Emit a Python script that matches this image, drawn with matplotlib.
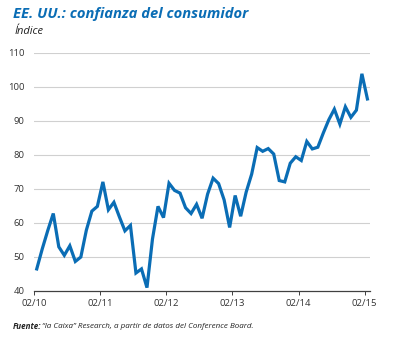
import matplotlib.pyplot as plt
import numpy as np

# Conference Board consumer confidence, monthly 02/2010 - 02/2015
values = [46.4, 52.3, 57.7, 62.7, 52.9, 50.4, 53.2, 48.6, 49.9, 57.8, 63.4,
          64.8, 72.0, 63.8, 66.0, 61.7, 57.6, 59.2, 45.2, 46.4, 40.9, 55.2, 64.8,
          61.5, 71.6, 69.5, 68.7, 64.4, 62.7, 65.4, 61.3, 68.4, 73.1, 71.5, 66.7,
          58.6, 68.0, 61.9, 69.0, 74.3, 82.1, 81.0, 81.8, 80.2, 72.4, 72.0, 77.5,
          79.4, 78.3, 83.9, 81.7, 82.2, 86.4, 90.3, 93.4, 89.0, 94.1, 91.0, 93.1,
          103.8, 96.4]
tick_labels = ['02/10', '02/11', '02/12', '02/13', '02/14', '02/15']
yticks = [40, 50, 60, 70, 80, 90, 100, 110]

blue = '#0a6db5'
plt.rcParams['font.family'] = ['Open Sans', 'DejaVu Sans']

fig = plt.figure(figsize=(3.93, 3.38), dpi=100)
ax = fig.add_axes([0.0865, 0.140, 0.854, 0.704])

x = np.arange(len(values))
ax.plot(x, values, color=blue, lw=2.3, solid_joinstyle='miter', zorder=3)

ax.set_ylim(40, 110)
ax.set_xlim(-0.4, 60.4)
ax.set_yticks(yticks)
ax.set_yticklabels([str(v) for v in yticks])
ax.set_xticks([12 * i - 0.5 for i in range(len(tick_labels))])
ax.set_xticklabels(tick_labels)

for v in yticks[1:]:
    ax.axhline(v, color='#d0d0d0', lw=0.8, zorder=1)

for s in ['top', 'right', 'left']:
    ax.spines[s].set_visible(False)
ax.spines['bottom'].set_color('#404040')
ax.spines['bottom'].set_linewidth(0.9)
ax.tick_params(axis='y', length=0, pad=7, labelsize=6.8, labelcolor='#333333')
ax.tick_params(axis='x', length=3, width=0.7, color='#404040', pad=3,
               labelsize=6.8, labelcolor='#333333')

fig.text(0.033, 0.958, 'EE. UU.: confianza del consumidor', color=blue,
         fontsize=10.6, fontweight='bold', fontstyle='italic', va='center')
fig.text(0.036, 0.908, 'Índice', color='#222222', fontsize=8,
         fontstyle='italic', va='center')
fig.text(0.033, 0.035, 'Fuente:', color='#222222', fontsize=5.8,
         fontweight='bold', fontstyle='italic', va='center')
fig.text(0.107, 0.035, '“la Caixa” Research, a partir de datos del Conference Board.',
         color='#222222', fontsize=5.8, fontstyle='italic', va='center')

fig.savefig('out.png', dpi=100)
